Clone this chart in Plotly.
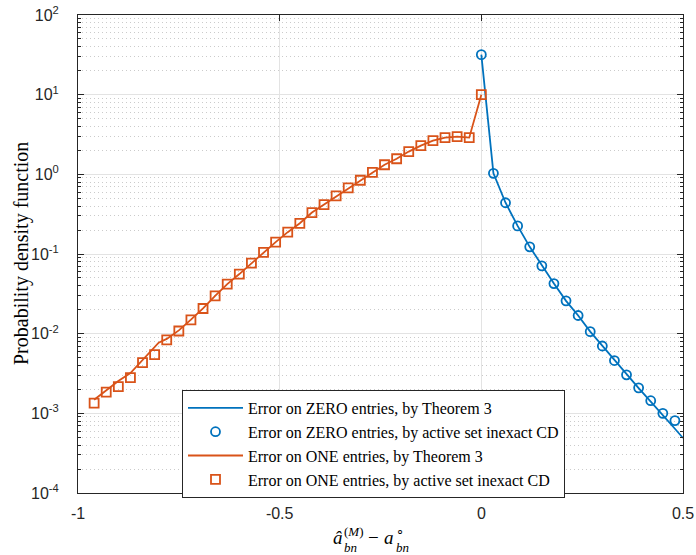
import plotly.graph_objects as go

# ---------------- data ----------------
# Error on ONE entries (x < 0)
x_one_sim = [-0.96, -0.93, -0.90, -0.87, -0.84, -0.81, -0.78, -0.75, -0.72, -0.69, -0.66,
             -0.63, -0.60, -0.57, -0.54, -0.51, -0.48, -0.45, -0.42, -0.39, -0.36, -0.33,
             -0.30, -0.27, -0.24, -0.21, -0.18, -0.15, -0.12, -0.09, -0.06, -0.03, 0.0]
y_one_sim = [0.00134, 0.00185, 0.00217, 0.00281, 0.00434, 0.00547, 0.00836, 0.0108, 0.0149,
             0.0207, 0.0298, 0.0418, 0.056, 0.0766, 0.105, 0.141, 0.188, 0.243, 0.331, 0.417,
             0.536, 0.675, 0.843, 1.06, 1.32, 1.57, 1.93, 2.29, 2.65, 2.89, 2.97, 2.89, 10.0]

x_one_thm = [-0.96, -0.93, -0.90, -0.87, -0.84, -0.81, -0.80, -0.78, -0.75, -0.72, -0.69, -0.66,
             -0.63, -0.60, -0.57, -0.54, -0.51, -0.48, -0.45, -0.42, -0.39, -0.36, -0.33,
             -0.30, -0.27, -0.24, -0.21, -0.18, -0.15, -0.12, -0.09, -0.06, -0.03, 0.0]
y_one_thm = [0.00148, 0.00195, 0.00255, 0.0032, 0.0046, 0.0068, 0.0077, 0.0086, 0.0110, 0.0150,
             0.0208, 0.0298, 0.0418, 0.056, 0.0766, 0.105, 0.141, 0.188, 0.243, 0.331, 0.417,
             0.536, 0.675, 0.843, 1.06, 1.32, 1.57, 1.93, 2.29, 2.65, 2.89, 2.97, 2.89, 10.0]

# Error on ZERO entries (x >= 0)
x_zero_sim = [0.0, 0.03, 0.06, 0.09, 0.12, 0.15, 0.18, 0.21, 0.24, 0.27, 0.30, 0.33, 0.36,
              0.39, 0.42, 0.45, 0.48]
y_zero_sim = [31.8, 1.03, 0.44, 0.225, 0.123, 0.071, 0.0425, 0.0258, 0.0169, 0.0106, 0.0070,
              0.0046, 0.00304, 0.00209, 0.00144, 0.00100, 0.00081]

x_zero_thm = [0.0, 0.03, 0.06, 0.09, 0.12, 0.15, 0.18, 0.21, 0.24, 0.27, 0.30, 0.33, 0.36,
              0.39, 0.42, 0.45, 0.48, 0.50]
y_zero_thm = [31.8, 1.03, 0.44, 0.225, 0.123, 0.071, 0.0425, 0.0258, 0.0169, 0.0106, 0.0070,
              0.0046, 0.00304, 0.00207, 0.00140, 0.00096, 0.00064, 0.00049]

legend_names = ["Error on ZERO entries, by Theorem 3",
                "Error on ZERO entries, by active set inexact CD",
                "Error on ONE entries, by Theorem 3",
                "Error on ONE entries, by active set inexact CD"]

y_title = "Probability density function"

x_tickvals = [-1, -0.5, 0, 0.5]
x_ticktext = ["-1", "-0.5", "0", "0.5"]
y_tickvals = [1e-4, 1e-3, 1e-2, 1e-1, 1e0, 1e1, 1e2]
y_ticktext = ["10<sup>-4</sup>", "10<sup>-3</sup>", "10<sup>-2</sup>", "10<sup>-1</sup>",
              "10<sup>0</sup>", "10<sup>1</sup>", "10<sup>2</sup>"]
y_minor_vals = [m * 10.0 ** e for e in range(-4, 2) for m in range(2, 10)]

BLUE = "#0072BD"
ORANGE = "#D95319"
SERIF = "Liberation Serif, Times New Roman, serif"
SANS = "Liberation Sans, Arial, sans-serif"

fig = go.Figure()
fig.add_trace(go.Scatter(x=x_zero_thm, y=y_zero_thm, mode="lines", name=legend_names[0],
                         line=dict(color=BLUE, width=1.8)))
fig.add_trace(go.Scatter(x=x_zero_sim, y=y_zero_sim, mode="markers", name=legend_names[1],
                         marker=dict(symbol="circle-open", size=9, color=BLUE,
                                     line=dict(width=1.8, color=BLUE))))
fig.add_trace(go.Scatter(x=x_one_thm, y=y_one_thm, mode="lines", name=legend_names[2],
                         line=dict(color=ORANGE, width=1.8)))
fig.add_trace(go.Scatter(x=x_one_sim, y=y_one_sim, mode="markers", name=legend_names[3],
                         marker=dict(symbol="square-open", size=9, color=ORANGE,
                                     line=dict(width=1.8, color=ORANGE))))

L, R, T, B = 78, 13, 15, 62
W, H = 696, 555
PW, PH = W - L - R, H - T - B


def px(xp):
    return (xp - L) / PW


def py(yp):
    return (H - B - yp) / PH


fig.update_layout(
    width=W, height=H,
    margin=dict(l=L, r=R, t=T, b=B, autoexpand=False),
    paper_bgcolor="white", plot_bgcolor="white",
    showlegend=True,
    legend=dict(x=px(182), y=py(390), xanchor="left", yanchor="top",
                bgcolor="white", bordercolor="#262626", borderwidth=1,
                font=dict(family=SERIF, size=16, color="#000000"),
                itemwidth=55, tracegroupgap=0),
)

fig.update_xaxes(
    range=[-1, 0.5], tickmode="array", tickvals=x_tickvals, ticktext=x_ticktext,
    ticks="inside", ticklen=6, tickwidth=1, tickcolor="#262626",
    showline=True, linecolor="#262626", linewidth=1, mirror="ticks",
    showgrid=True, gridcolor="#e3e3e3", gridwidth=1, zeroline=False,
    tickfont=dict(family=SANS, size=16, color="#262626"), ticklabelstandoff=6,
)
fig.update_yaxes(
    type="log", range=[-4, 2], tickmode="array", tickvals=y_tickvals, ticktext=y_ticktext,
    ticks="inside", ticklen=6, tickwidth=1, tickcolor="#262626",
    showline=True, linecolor="#262626", linewidth=1, mirror="ticks",
    showgrid=True, gridcolor="#e3e3e3", gridwidth=1, zeroline=False,
    tickfont=dict(family=SANS, size=16, color="#262626"), ticklabelstandoff=15,
    minor=dict(tickmode="array", tickvals=y_minor_vals, ticks="inside", ticklen=3,
               tickcolor="#262626", showgrid=True, gridcolor="#cbcbcb",
               griddash="1px,3px", gridwidth=1),
)

# y-axis title
fig.add_annotation(text=y_title, xref="paper", yref="paper", x=px(21), y=py(254),
                   xanchor="center", yanchor="middle", textangle=-90, showarrow=False,
                   font=dict(family=SERIF, size=20, color="#000000"), borderpad=0)

# x-axis label: \hat{a}_{bn}^{(M)} - a_{bn}^{\circ}
lab = [
    ("<i>â</i>", 332, 537, 19),
    ("(<i>M</i>)", 343, 531, 13),
    ("<i>bn</i>", 343, 547, 13),
    ("−", 367, 537, 19),
    ("<i>a</i>", 383, 537, 19),
    ("∘", 395, 530, 13),
    ("<i>bn</i>", 395, 547, 13),
]
for txt, xl, yc, fs in lab:
    fig.add_annotation(text=txt, xref="paper", yref="paper", x=px(xl), y=py(yc),
                       xanchor="left", yanchor="middle", showarrow=False,
                       font=dict(family=SERIF, size=fs, color="#000000"), borderpad=0)

fig.write_html("out.html", config={"displayModeBar": False},
               post_script="document.body.style.margin='0px';")
